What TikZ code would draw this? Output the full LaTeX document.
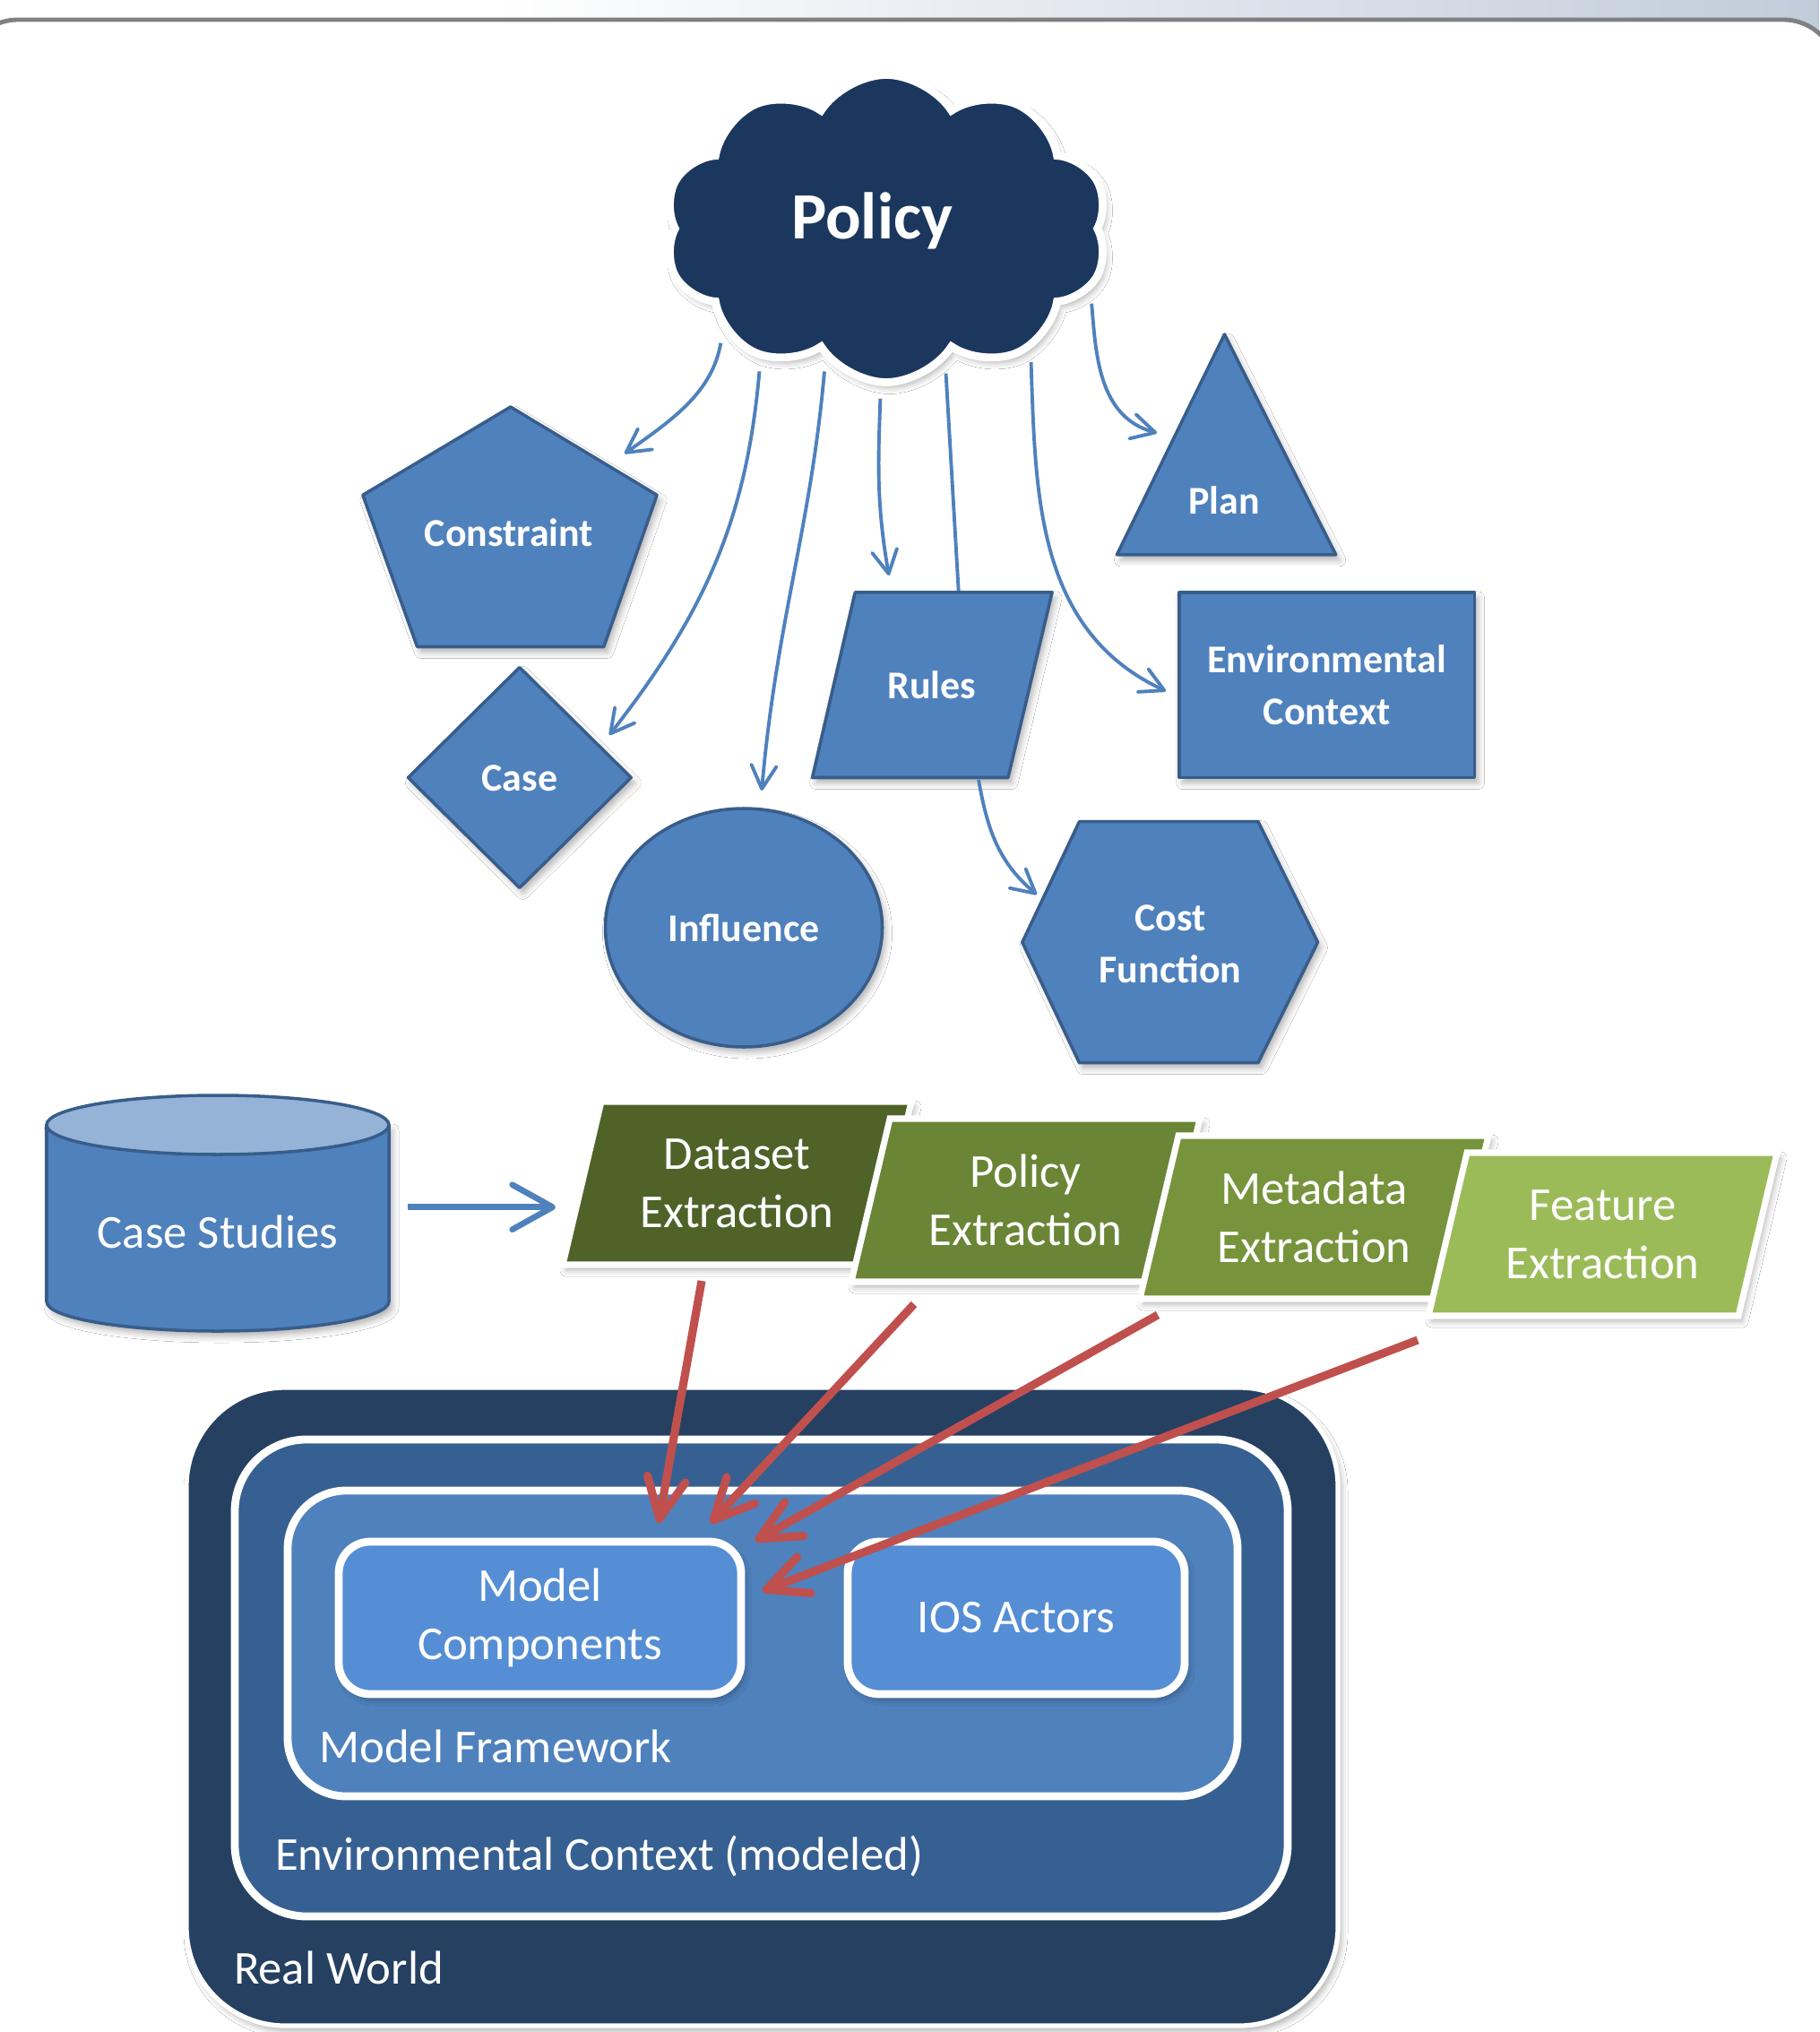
\documentclass[tikz,border=0pt]{standalone}
\usepackage{fontspec}
\setmainfont{Carlito}
\usepackage{tikz}
\usetikzlibrary{positioning,arrows.meta,calc,shapes.symbols,shapes.geometric,shadows.blur}

\definecolor{shapeblue}{HTML}{4F81BD}
\definecolor{shapeedge}{HTML}{385D8A}
\definecolor{cloudblue}{HTML}{1B375E}
\definecolor{toplight}{HTML}{95B3D7}
\definecolor{extrone}{HTML}{4F6228}
\definecolor{extrtwo}{HTML}{6A8535}
\definecolor{extrthree}{HTML}{77933C}
\definecolor{extrfour}{HTML}{9BBB59}
\definecolor{worldblue}{HTML}{254061}
\definecolor{envblue}{HTML}{376092}
\definecolor{compblue}{HTML}{558ED5}
\definecolor{feedred}{HTML}{C0504D}
\definecolor{bandblue}{HTML}{C1CCDA}
\definecolor{framegray}{HTML}{808080}

\tikzset{
    softshadow/.style = {
        blur shadow={shadow xshift=0.04cm, shadow yshift=-0.06cm,
            shadow blur radius=0.07cm, shadow opacity=30}
    },
    blueshape/.style = {
        fill=shapeblue,
        draw=shapeedge,
        line width=1pt,
        line join=round,
        softshadow
    },
    shapetext/.style = {
        text=white,
        align=center,
        inner sep=0pt,
        font=\fontsize{12.5}{16.5}\selectfont\bfseries
    },
    policycloud/.style = {
        shape=cloud,
        cloud puffs=10,
        cloud puff arc=115,
        cloud ignores aspect,
        minimum width=4.95cm,
        minimum height=3.43cm,
        fill=cloudblue,
        draw=white,
        line width=2.5pt,
        softshadow
    },
    cloudtext/.style = {
        text=white,
        inner sep=0pt,
        font=\fontsize{21}{25}\selectfont\bfseries
    },
    extraction/.style = {
        draw=white,
        line width=2pt,
        softshadow
    },
    plaintext/.style = {
        text=white,
        align=center,
        inner sep=0pt,
        font=\fontsize{15}{18.5}\selectfont
    },
    framelabel/.style = {
        plaintext,
        anchor=west
    },
    worldbox/.style = {
        fill=worldblue,
        draw=white,
        line width=1.5pt,
        rounded corners=1.1cm,
        softshadow
    },
    envbox/.style = {
        fill=envblue,
        draw=white,
        line width=2.5pt,
        rounded corners=0.8cm
    },
    frameworkbox/.style = {
        fill=shapeblue,
        draw=white,
        line width=2.5pt,
        rounded corners=0.65cm
    },
    compbox/.style = {
        fill=compblue,
        draw=white,
        line width=2.5pt,
        rounded corners=0.35cm,
        softshadow
    },
    policyarrow/.style = {
        draw=shapeblue,
        line width=1.1pt,
        shorten <=4pt,
        -{Straight Barb[length=0.26cm, width=0.28cm, round]}
    },
    policyline/.style = {
        draw=shapeblue,
        line width=1.1pt,
        shorten <=4pt
    },
    inputarrow/.style = {
        draw=shapeblue,
        line width=1.9pt,
        -{Straight Barb[length=0.45cm, width=0.50cm, round]}
    },
    feedarrow/.style = {
        draw=feedred,
        line width=2.6pt,
        -{Straight Barb[length=0.45cm, width=0.43cm, round]}
    },
}

\begin{document}
\begin{tikzpicture}
    \useasboundingbox (0,0) rectangle (20.30,-22.67);
    \shade[left color=white, right color=bandblue] (5.5,0) rectangle (20.30,-0.4);
    \path[fill=white, draw=framegray, line width=1.4pt, rounded corners=0.6cm] (-0.4,-0.22) rectangle (20.5,-24);

    % policy and what it governs
    \node[policycloud] (policy) at (9.89,-2.55) {};
    \node[cloudtext] (policytext) at (9.73,-2.46) {Policy};

    \path[blueshape] (5.697,-4.540) -- (7.331,-5.523) -- (6.738,-7.215) -- (4.656,-7.215) -- (4.049,-5.523) -- cycle;
    \node[shapetext] (constraint) at (5.68,-5.94) {Constraint};

    \path[blueshape] (13.664,-3.730) -- (14.907,-6.188) -- (12.464,-6.188) -- cycle;
    \node[shapetext] (plan) at (13.66,-5.58) {Plan};

    \path[blueshape] (5.798,-7.446) -- (7.042,-8.675) -- (5.798,-9.904) -- (4.555,-8.675) -- cycle;
    \node[shapetext] (case) at (5.80,-8.68) {Case};

    \path[policyline] (policy.294) -- (10.70,-6.65);
    \path[blueshape] (9.543,-6.608) -- (11.741,-6.608) -- (11.249,-8.675) -- (9.066,-8.675) -- cycle;
    \node[shapetext] (rules) at (10.40,-7.64) {Rules};

    \node[blueshape, shapetext, minimum width=3.296cm, minimum height=2.067cm] (envctx) at (14.806,-7.642) {Environmental\\Context};

    \node[blueshape, shapetext, ellipse, minimum width=3.09cm, minimum height=2.66cm] (influence) at (8.30,-10.35) {Influence};

    \path[blueshape] (11.408,-10.512) -- (12.044,-9.167) -- (14.040,-9.167) -- (14.705,-10.512) -- (14.040,-11.856) -- (12.044,-11.856) -- cycle;
    \node[shapetext] (cost) at (13.06,-10.53) {Cost\\Function};

    \coordinate (constraint-in) at (6.97,-5.06);
    \coordinate (case-in) at (6.80,-8.20);
    \coordinate (influence-in) at (8.50,-8.82);
    \coordinate (rules-in) at (9.92,-6.42);
    \coordinate (envctx-in) at (13.01,-7.71);
    \coordinate (plan-in) at (12.91,-4.83);
    \coordinate (rules-out) at (10.92,-8.70);
    \coordinate (cost-in) at (11.57,-9.98);

    \path[policyarrow] (policy.212) to[out=-100, in=35] (constraint-in);
    \path[policyarrow] (policy.226) to[out=-95, in=52] (case-in);
    \path[policyarrow] (policy.245) to[out=-95, in=85] (influence-in);
    \path[policyarrow] (policy.268) to[out=-92, in=100] (rules-in);
    \path[policyarrow] (policy.320) to[out=-88, in=155] (envctx-in);
    \path[policyarrow] (policy.343) to[out=-85, in=165] (plan-in);
    \path[policyarrow, shorten <=0pt] (rules-out) to[out=-80, in=140] (cost-in);

    % case studies feeding the extraction steps
    \path[blueshape] (0.52,-12.55) -- (0.52,-14.52) arc[start angle=180, end angle=360, x radius=1.91cm, y radius=0.33cm] -- (4.34,-12.55) -- cycle;
    \path[fill=toplight, draw=shapeedge, line width=1pt] (2.43,-12.55) ellipse [x radius=1.91cm, y radius=0.33cm];
    \node[plaintext] (casestudies) at (2.43,-13.74) {Case Studies};

    \path[extraction, fill=extrone] (6.71,-12.29) -- (10.17,-12.29) -- (9.74,-14.11) -- (6.28,-14.11) -- cycle;
    \node[plaintext] (dataset) at (8.225,-13.20) {Dataset\\Extraction};
    \path[extraction, fill=extrtwo] (9.93,-12.48) -- (13.39,-12.48) -- (12.96,-14.30) -- (9.50,-14.30) -- cycle;
    \node[plaintext] (policyext) at (11.445,-13.39) {Policy\\Extraction};
    \path[extraction, fill=extrthree] (13.15,-12.67) -- (16.61,-12.67) -- (16.18,-14.49) -- (12.72,-14.49) -- cycle;
    \node[plaintext] (metadata) at (14.665,-13.58) {Metadata\\Extraction};
    \path[extraction, fill=extrfour] (16.37,-12.86) -- (19.83,-12.86) -- (19.40,-14.68) -- (15.94,-14.68) -- cycle;
    \node[plaintext] (feature) at (17.885,-13.77) {Feature\\Extraction};

    \coordinate (casestudies-out) at (4.545,-13.467);
    \coordinate (dataset-in) at (6.20,-13.467);
    \path[inputarrow] (casestudies-out) -- (dataset-in);

    % nested worlds
    \node[worldbox, minimum width=12.85cm, minimum height=7.12cm] (realworld) at (8.505,-19.04) {};
    \node[envbox, minimum width=11.75cm, minimum height=5.32cm] (envmodel) at (8.495,-18.72) {};
    \node[frameworkbox, minimum width=10.60cm, minimum height=3.41cm] (framework) at (8.51,-18.335) {};
    \node[compbox, plaintext, minimum width=4.49cm, minimum height=1.70cm] (components) at (6.025,-18.05) {Model\\Components};
    \node[compbox, plaintext, minimum width=3.76cm, minimum height=1.70cm] (actors) at (11.34,-18.05) {IOS Actors};

    \node[framelabel] (frameworklabel) at (3.557,-19.48) {Model Framework};
    \node[framelabel] (envmodellabel) at (3.065,-20.71) {Environmental Context (modeled)};
    \node[framelabel] (realworldlabel) at (2.603,-21.95) {Real World};

    \coordinate (dataset-out) at (7.83,-14.29);
    \coordinate (policyext-out) at (10.20,-14.55);
    \coordinate (metadata-out) at (12.92,-14.67);
    \coordinate (feature-out) at (15.82,-14.95);
    \coordinate (components-a) at (7.35,-16.99);
    \coordinate (components-b) at (7.93,-16.99);
    \coordinate (components-c) at (8.43,-17.19);
    \coordinate (components-d) at (8.51,-17.75);

    \path[feedarrow] (dataset-out) -- (components-a);
    \path[feedarrow] (policyext-out) -- (components-b);
    \path[feedarrow] (metadata-out) -- (components-c);
    \path[feedarrow] (feature-out) -- (components-d);
\end{tikzpicture}
\end{document}
